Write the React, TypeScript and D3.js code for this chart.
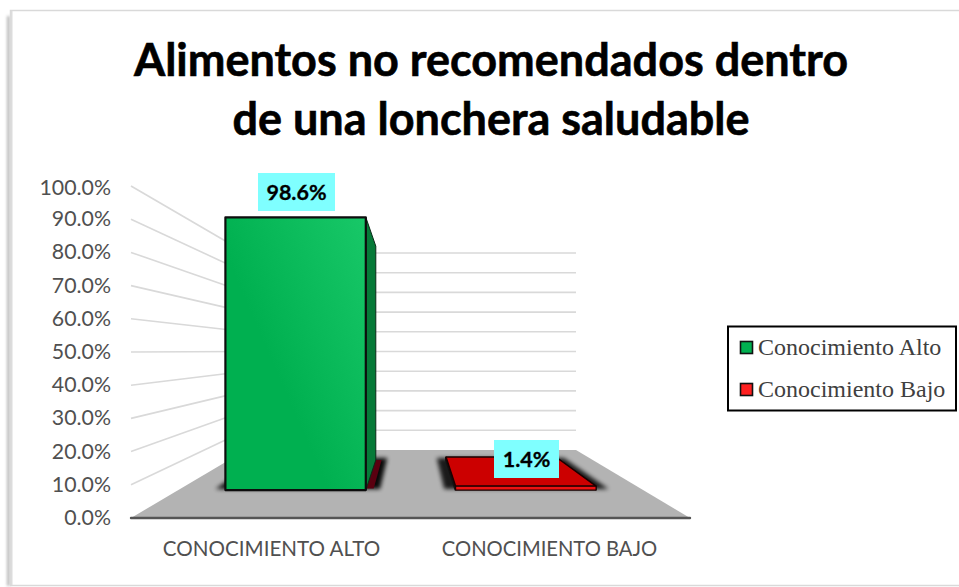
import React from "react";
import * as d3 from "d3";

const titleLines = ["Alimentos no recomendados dentro", "de una lonchera saludable"];
const categories = ["CONOCIMIENTO ALTO", "CONOCIMIENTO BAJO"];
const seriesNames = ["Conocimiento Alto", "Conocimiento Bajo"];
const values = [0.986, 0.014];
const tickValues = [0, 0.1, 0.2, 0.3, 0.4, 0.5, 0.6, 0.7, 0.8, 0.9, 1];
const swatchColors = ["#00b050", "#ff2020"];

const W = 959;
const H = 587;
// perspective box
const yFront = d3.scaleLinear().domain([0, 1]).range([518, 186]);
const yBack = d3.scaleLinear().domain([0, 1]).range([450, 253]);
const xLeft = d3.scaleLinear().domain([0, 1]).range([131, 246]);
const xRight = d3.scaleLinear().domain([0, 1]).range([690, 576]);
const band = d3.scaleBand<string>().domain(categories).range([0, 1]).paddingInner(0.39).paddingOuter(0.205);
const fmt = d3.format(".1%");

// u across, t depth, v value
function p(u: number, t: number, v: number): [number, number] {
  const x = xLeft(t) + (xRight(t) - xLeft(t)) * u;
  const y = yFront(v) + (yBack(v) - yFront(v)) * t;
  return [x, y];
}
const poly = (pts: [number, number][]) => pts.map((q) => q.map((n) => n.toFixed(1)).join(",")).join(" ");
const T0 = 0.41;
const T1 = 0.853;

const SANS = "Lato, Carlito, Calibri, sans-serif";

function Bar({ cat, value, i }: { cat: string; value: number; i: number }) {
  const u0 = band(cat)!;
  const u1 = u0 + band.bandwidth();
  const shadow = poly([p(u0 - 0.024, T0 + 0.015, 0), p(u1 + 0.03, T0 + 0.015, 0), p(u1 + 0.03, T1 + 0.03, 0), p(u0 - 0.024, T1 + 0.03, 0)]);
  const front = poly([p(u0, T0, 0), p(u1, T0, 0), p(u1, T0, value), p(u0, T0, value)]);
  const side = poly([p(u1, T0, 0), p(u1, T1, 0), p(u1, T1, value), p(u1, T0, value)]);
  const top = poly([p(u0, T0, value), p(u1, T0, value), p(u1, T1, value), p(u0, T1, value)]);
  const base = poly([p(u0 - 0.003, T0 + 0.022, 0), p(u1 + 0.016, T0 + 0.022, 0), p(u1 + 0.016, T1, 0), p(u0, T1, 0)]);
  if (i === 0) {
    return (
      <g>
        <polygon points={shadow} fill="#000" opacity={0.95} filter="url(#blur)" />
        <polygon points={base} fill="#5a0010" />
        <polygon points={side} fill="#067a38" stroke="#0a2a18" strokeWidth={1} strokeLinejoin="round" />
        <polygon points={front} fill="url(#greenGrad)" stroke="#0d0d0d" strokeWidth={2.2} strokeLinejoin="round" />
      </g>
    );
  }
  return (
    <g>
      <polygon points={shadow} fill="#000" opacity={0.85} filter="url(#blur)" />
      <polygon points={side} fill="#7a0000" stroke="#111" strokeWidth={1} />
      <polygon points={poly([p(u0, T0, 0), p(u0, T1, 0), p(u0, T1, value), p(u0, T0, value)])} fill="#300" stroke="#111" strokeWidth={2} />
      <polygon points={top} fill="#cc0000" stroke="#1a0000" strokeWidth={1.5} strokeLinejoin="round" />
      <polygon points={front} fill="#ee1111" stroke="#1a0000" strokeWidth={1.2} strokeLinejoin="round" />
    </g>
  );
}

const labelBoxes = [
  { x: 258, y: 173, w: 77, h: 38 },
  { x: 494, y: 440, w: 65, h: 38 },
];

export default function App() {
  return (
    <svg width={W} height={H} viewBox={`0 0 ${W} ${H}`} style={{ position: "absolute", left: 0, top: 0, background: "#fff" }}>
      <defs>
        <filter id="blur" x="-20%" y="-40%" width="140%" height="180%">
          <feGaussianBlur stdDeviation="2.2" />
        </filter>
        <filter id="frameBlur" x="-200%" y="-5%" width="500%" height="110%">
          <feGaussianBlur stdDeviation="1.6" />
        </filter>
        <linearGradient id="greenGrad" x1="1" y1="0" x2="0.35" y2="0.55">
          <stop offset="0" stopColor="#18c868" />
          <stop offset="1" stopColor="#00b050" />
        </linearGradient>
      </defs>

      {/* frame */}
      <rect x={7} y={16} width={3} height={570} fill="#999" opacity={0.7} filter="url(#frameBlur)" />
      <rect x={10.5} y={10.5} width={960} height={575} fill="#fff" stroke="#d9d9d9" strokeWidth={1.5} />
      <rect x={10.5} y={11} width={2} height={574} fill="#dcdcdc" />

      {/* title */}
      {titleLines.map((t, i) => (
        <text key={t} x={491} y={76 + i * 59} textAnchor="middle" fontFamily={SANS} fontWeight={700} fontSize={45} fill="#000" stroke="#000" strokeWidth={0.6}>
          {t}
        </text>
      ))}

      {/* gridlines */}
      {tickValues.map((v) => (
        <g key={v} stroke="#d9d9d9" strokeWidth={1.6} fill="none">
          {v > 0 && <line x1={xLeft(0)} y1={yFront(v)} x2={xLeft(1)} y2={yBack(v)} />}
          {v > 0 && <line x1={xLeft(1)} y1={yBack(v)} x2={xRight(1)} y2={yBack(v)} />}
        </g>
      ))}

      {/* floor */}
      <polygon points={poly([p(0, 0, 0), p(1, 0, 0), p(1, 1, 0), p(0, 1, 0)])} fill="#b3b3b3" />
      <line x1={xLeft(0)} x2={xRight(0)} y1={yFront(0)} y2={yFront(0)} stroke="#555" strokeWidth={2.4} strokeLinecap="round" />

      {/* bars */}
      {categories.map((c, i) => (
        <Bar key={c} cat={c} value={values[i]} i={i} />
      ))}

      {/* data labels */}
      {values.map((v, i) => {
        const b = labelBoxes[i];
        return (
          <g key={i}>
            <rect x={b.x} y={b.y} width={b.w} height={b.h} fill="#7fffff" />
            <text x={b.x + b.w / 2} y={b.y + b.h / 2 + 7.5} textAnchor="middle" fontFamily={SANS} fontWeight={700} fontSize={21.5} fill="#000" stroke="#000" strokeWidth={0.3}>
              {fmt(v)}
            </text>
          </g>
        );
      })}

      {/* y axis labels */}
      {tickValues.map((v) => (
        <text key={v} x={111} y={yFront(v) + 7 + (v === 1 ? 2 : 0)} textAnchor="end" fontFamily={SANS} fontSize={21.3} fill="#505050">
          {fmt(v)}
        </text>
      ))}

      {/* x axis labels */}
      {categories.map((c, i) => (
        <text key={c} x={[271.5, 549.5][i]} y={556} textAnchor="middle" fontFamily={SANS} fontSize={[20.6, 20.2][i]} fill="#505050">
          {c}
        </text>
      ))}

      {/* legend */}
      <rect x={728} y={326.5} width={228} height={84} fill="#fff" stroke="#000" strokeWidth={2} />
      {seriesNames.map((s, i) => (
        <g key={s}>
          <rect x={740.5} y={341.5 + i * 42} width={12} height={12} fill={swatchColors[i]} stroke="#111" strokeWidth={1.6} />
          <text x={758} y={355 + i * 42} fontFamily="'Liberation Serif', 'Times New Roman', serif" fontSize={24} fill="#404040">
            {s}
          </text>
        </g>
      ))}
    </svg>
  );
}
